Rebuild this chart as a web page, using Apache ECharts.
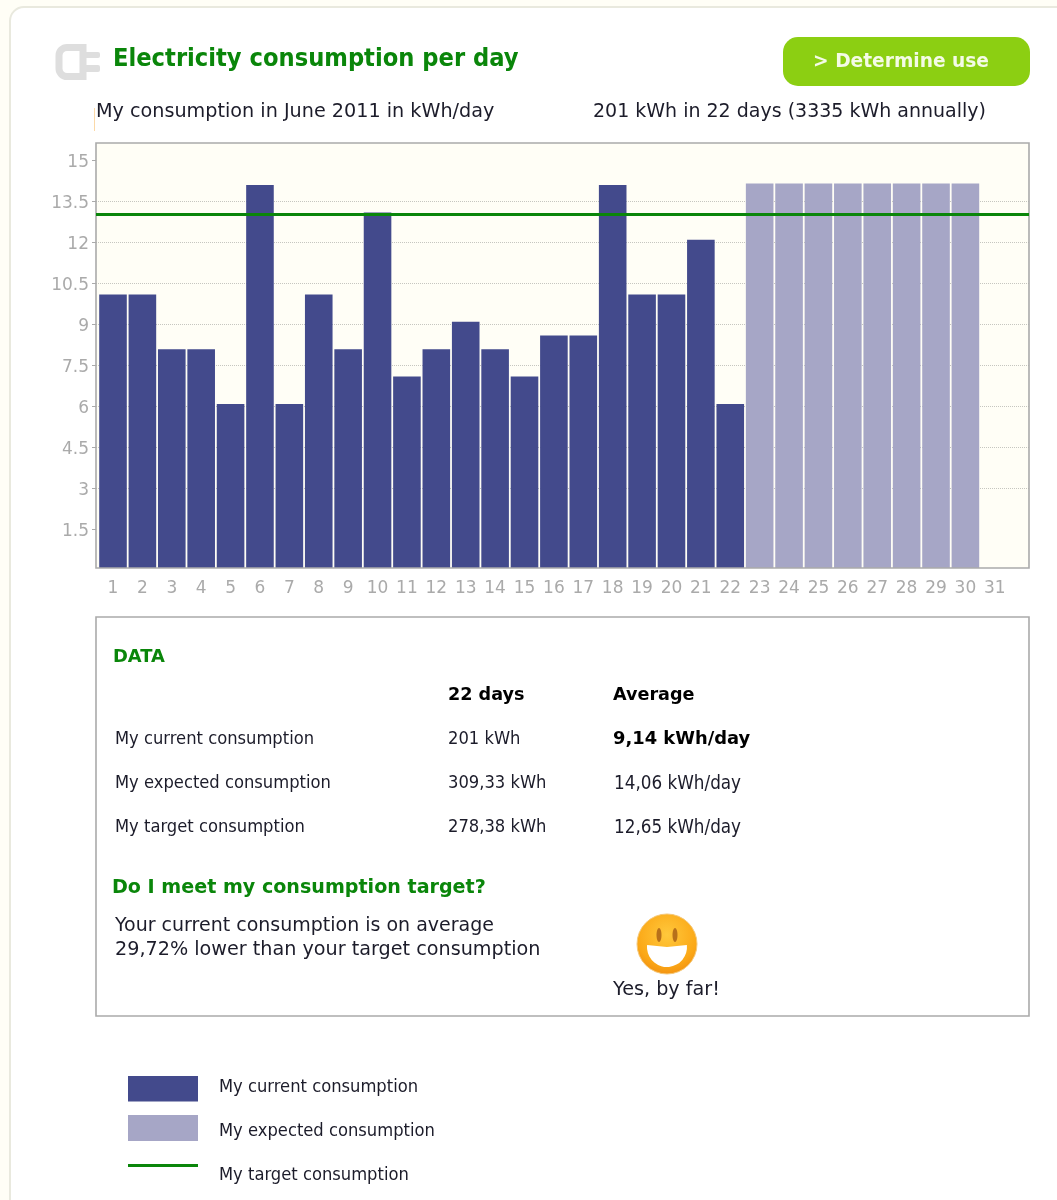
<!DOCTYPE html>
<html><head><meta charset="utf-8">
<style>html,body{margin:0;padding:0;background:#fffef6}#c{width:1057px;height:1200px}</style>
<script src="https://cdn.jsdelivr.net/npm/echarts@6/dist/echarts.min.js"></script>
</head><body><div id="c"></div>
<script>
const days = ['1','2','3','4','5','6','7','8','9','10','11','12','13','14','15','16','17','18','19','20','21','22','23','24','25','26','27','28','29','30','31'];
const current = [10,10,8,8,6,14,6,10,8,13,7,8,9,8,7,8.5,8.5,14,10,10,12,6,null,null,null,null,null,null,null,null,null];
const expected = [null,null,null,null,null,null,null,null,null,null,null,null,null,null,null,null,null,null,null,null,null,null,14.06,14.06,14.06,14.06,14.06,14.06,14.06,14.06,null];
const target = 13;
const yTicks = [1.5,3,4.5,6,7.5,9,10.5,12,13.5,15];

const FONT = 'DejaVu Sans';
const FONTC = 'DejaVu Sans Condensed';
const INK = '#1c1c2a';
function t(x, y, text, size, o) {
  o = o || {};
  return {type:'text', x:x, y:y, z:o.z||10, silent:true, style:{text:text, fontFamily:o.f||FONT, fontSize:size,
    fontWeight:o.w||'normal', fill:o.c||INK, align:o.a||'left', verticalAlign:'middle'}};
}
const G = '#0a860a';
const TS = 17.6, HS = 19.2, CS = 18.2, NS = 18.7;
const C = {f:FONTC};
const graphics = [
  {type:'rect', z:-3, shape:{x:10,y:7,width:1100,height:1300,r:14}, style:{fill:'#fff',stroke:'#e9e9de',lineWidth:2}},
  // plug icon
  {type:'rect', z:1, shape:{x:59,y:47.5,width:24,height:29,r:[8,0,0,8]}, style:{fill:'none',stroke:'#dedede',lineWidth:7}},
  {type:'rect', z:1, shape:{x:84,y:52,width:16,height:6,r:2}, style:{fill:'#dedede'}},
  {type:'rect', z:1, shape:{x:84,y:65,width:16,height:7,r:2}, style:{fill:'#dedede'}},
  t(113,59,'Electricity consumption per day',25.2,{w:'bold',c:G,f:FONTC}),
  {type:'rect', z:1, shape:{x:783,y:37,width:247,height:49,r:15}, style:{fill:'#8ccf12'}},
  t(901,62,'> Determine use',18.6,{w:'bold',c:'#f4fbe6',a:'center'}),
  {type:'rect', z:1, shape:{x:94,y:108,width:1,height:23}, style:{fill:'#fbd9a8'}},
  t(96,112,'My consumption in June 2011 in kWh/day',HS),
  t(593,112,'201 kWh in 22 days (3335 kWh annually)',19),
  // plot frame
  {type:'rect', z:-1, shape:{x:96,y:143,width:933,height:425}, style:{fill:'#fffef6'}},
  {type:'rect', z:4, shape:{x:96,y:143,width:933,height:425}, style:{fill:'none',stroke:'#aaaaaa',lineWidth:1.6}},
  // data panel
  {type:'rect', z:1, shape:{x:96,y:617,width:933,height:399}, style:{fill:'#fff',stroke:'#aaaaaa',lineWidth:1.6}},
  t(113,657,'DATA',17.9,{w:'bold',c:G}),
  t(448,695,'22 days',TS,{w:'bold',c:'#000'}),
  t(613,695,'Average',TS,{w:'bold',c:'#000'}),
  t(115,739,'My current consumption',CS,C),
  t(448,739,'201 kWh',CS,C),
  t(613,739,'9,14 kWh/day',17.9,{w:'bold',c:'#000'}),
  t(115,783,'My expected consumption',CS,C),
  t(448,783,'309,33 kWh',CS,C),
  t(614,784,'14,06 kWh/day',NS,C),
  t(115,827,'My target consumption',CS,C),
  t(448,827,'278,38 kWh',CS,C),
  t(614,828,'12,65 kWh/day',NS,C),
  t(112,888,'Do I meet my consumption target?',19.1,{w:'bold',c:G}),
  t(115,926,'Your current consumption is on average',19),
  t(115,950,'29,72% lower than your target consumption',HS),
  // smiley
  {type:'circle', z:5, shape:{cx:667,cy:944,r:30}, style:{fill:new echarts.graphic.RadialGradient(0.5,0.35,0.7,[{offset:0,color:'#ffc83c'},{offset:0.7,color:'#fba817'},{offset:1,color:'#f08c10'}]),stroke:'#f5c878',lineWidth:1}},
  {type:'ellipse', z:6, shape:{cx:659,cy:935,rx:2.5,ry:7}, style:{fill:'#b7701a'}},
  {type:'ellipse', z:6, shape:{cx:675,cy:935,rx:2.5,ry:7}, style:{fill:'#b7701a'}},
  {type:'sector', z:6, shape:{cx:667,cy:947,r0:0,r:20,startAngle:-0.1,endAngle:Math.PI+0.1}, style:{fill:'#fff'}},
  t(613,990,'Yes, by far!',HS)
];

const option = {
  animation:false,
  backgroundColor:'transparent',
  graphic:graphics,
  grid:[
    {left:98.3, top:143, width:911.2, height:425},
    {left:96, top:143, width:933, height:427}
  ],
  xAxis:[
    {type:'category', gridIndex:0, data:days, axisLine:{show:false}, axisTick:{show:false}, splitLine:{show:false},
      axisLabel:{color:'#aaaaaa', fontFamily:FONT, fontSize:17, margin:12, interval:0}},
    {type:'value', gridIndex:1, min:0, max:1, show:false}
  ],
  yAxis:[
    {type:'value', gridIndex:0, min:0, max:15.54, show:false, splitLine:{show:false}},
    {type:'value', gridIndex:1, min:0, max:15.62, interval:1.5,
      axisLine:{show:false},
      axisTick:{show:true, length:4, customValues:yTicks, lineStyle:{color:'#aaaaaa'}},
      axisLabel:{color:'#aaaaaa', fontFamily:FONT, fontSize:17, margin:7, verticalAlign:'bottom', padding:[0,0,-11,0], customValues:yTicks, formatter:v=>String(v)},
      splitLine:{show:true, showMinLine:false, showMaxLine:false, lineStyle:{type:'dotted', color:'#c6c6c0', width:1}}}
  ],
  legend:{
    orient:'vertical', left:128, top:1071, padding:0, itemWidth:70, itemHeight:33, itemGap:11, selectedMode:false,
    textStyle:{fontFamily:FONTC, fontSize:CS, color:INK, padding:[0,0,0,16]},
    data:[
      {name:'My current consumption', icon:'path://M0,5H70V30.5H0Z M0,0H0V0Z M0,33H0V33Z'},
      {name:'My expected consumption', icon:'path://M0,0H70V26H0Z M0,33H0V33Z'},
      {name:'My target consumption', icon:'path://M0,5H70V8H0Z M0,0H0V0Z M0,33H0V33Z', itemStyle:{color:G}}
    ]
  },
  series:[
    {name:'My current consumption', type:'bar', xAxisIndex:0, yAxisIndex:0, data:current, barWidth:27.6, barGap:'-100%', itemStyle:{color:'#434a8c'}, z:2},
    {name:'My expected consumption', type:'bar', xAxisIndex:0, yAxisIndex:0, data:expected, barWidth:27.6, barGap:'-100%', itemStyle:{color:'#a6a6c6'}, z:2},
    {name:'My target consumption', type:'line', xAxisIndex:1, yAxisIndex:1, data:[[0,target],[1,target]], showSymbol:false, symbol:'none', lineStyle:{color:G,width:3}, itemStyle:{color:G}, z:6}
  ]
};
echarts.init(document.getElementById('c')).setOption(option);
</script></body></html>
